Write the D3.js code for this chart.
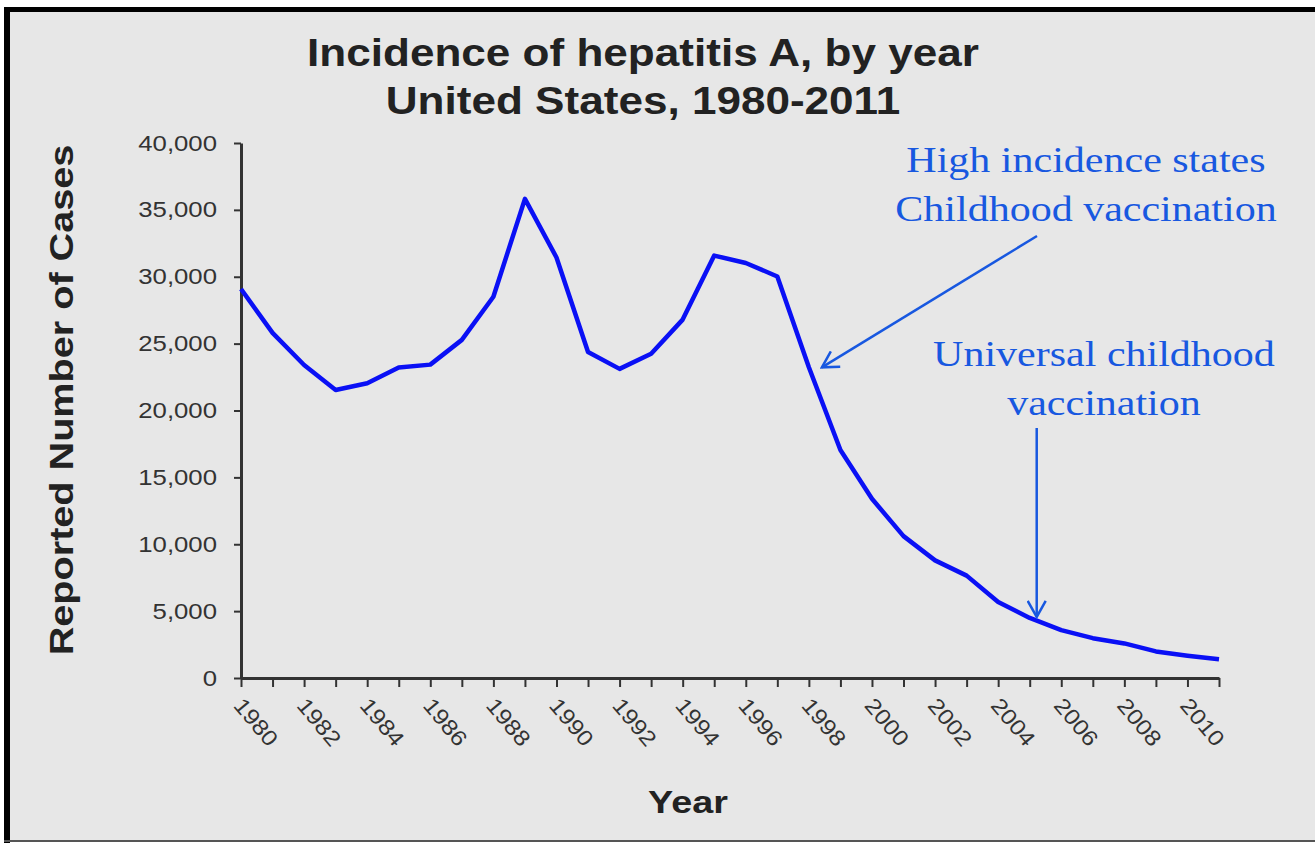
<!DOCTYPE html>
<html>
<head>
<meta charset="utf-8">
<script src="https://cdn.jsdelivr.net/npm/d3@7"></script>
<style>
  body { margin: 0; background: #fff; }
  svg { display: block; }
</style>
</head>
<body>
<svg id="chart"></svg>
<script>
// Reported hepatitis A cases, US
const years = d3.range(1980, 2012);
const cases = [29087, 25802, 23403, 21532, 22040, 23210, 23430, 25280, 28507, 35821,
  31441, 24378, 23112, 24238, 26796, 31582, 31032, 30021, 23229, 17047,
  13397, 10609, 8795, 7653, 5683, 4488, 3579, 2979, 2585, 1987, 1670, 1398];
const yTicks = [0, 5000, 10000, 15000, 20000, 25000, 30000, 35000, 40000];
const titleLines = ["Incidence of hepatitis A, by year", "United States, 1980-2011"];
const notes = [
  { lines: ["High incidence states", "Childhood vaccination"], year: 1998, value: 23229 },
  { lines: ["Universal childhood", "vaccination"], year: 2005, value: 4488 }
];

const width = 1315, height = 844;
const sans = "Liberation Sans, Arial, sans-serif";
const svg = d3.select("#chart").attr("width", width).attr("height", height);

// the original text is drawn a bit wide, so widen glyphs a little
function stretch(sel, factor) {
  sel.each(function () {
    const len = this.getComputedTextLength();
    d3.select(this).attr("textLength", len * factor).attr("lengthAdjust", "spacingAndGlyphs");
  });
}

// panel + frame
svg.append("rect").attr("x", 7).attr("y", 9).attr("width", width - 7).attr("height", 832)
  .attr("fill", "#e7e7e7");
svg.append("rect").attr("x", 4).attr("y", 7).attr("width", 6).attr("height", 836).attr("fill", "#000");
svg.append("rect").attr("x", 4).attr("y", 7).attr("width", width - 4).attr("height", 5).attr("fill", "#000");
svg.append("rect").attr("x", 4).attr("y", 840).attr("width", width - 4).attr("height", 2).attr("fill", "#555");

const margin = { top: 143, left: 241, right: 96, bottom: 166 };
const x = d3.scaleLinear().domain([1980, 2011]).range([margin.left, width - margin.right]);
const y = d3.scaleLinear().domain([0, 40000]).range([height - margin.bottom, margin.top]);

// title
svg.selectAll(".title").data(titleLines).join("text")
  .attr("class", "title")
  .attr("x", 643).attr("y", (d, i) => 66 + i * 48)
  .attr("text-anchor", "middle")
  .attr("font-family", sans)
  .attr("font-weight", "bold").attr("font-size", 39).attr("fill", "#222")
  .text(d => d)
  .call(stretch, 1.13);

// y axis
const yAxis = svg.append("g")
  .attr("transform", `translate(${margin.left},0)`)
  .call(d3.axisLeft(y).tickValues(yTicks).tickSize(7).tickSizeOuter(0).tickFormat(d3.format(",")));
yAxis.select(".domain").attr("stroke", "#333").attr("stroke-width", 3);
yAxis.selectAll(".tick line").attr("stroke", "#333").attr("stroke-width", 2);
yAxis.selectAll(".tick text")
  .attr("x", -24)
  .attr("font-family", sans)
  .attr("font-size", 22).attr("fill", "#333")
  .call(stretch, 1.17);

// x axis
const xAxis = svg.append("g")
  .attr("transform", `translate(0,${y(0)})`)
  .call(d3.axisBottom(x).tickValues(years).tickSize(9).tickSizeOuter(0)
    .tickFormat(d => d % 2 === 0 && d < 2011 ? d : ""));
xAxis.select(".domain").attr("stroke", "#333").attr("stroke-width", 3);
xAxis.selectAll(".tick line").attr("stroke", "#333").attr("stroke-width", 2);
xAxis.selectAll(".tick text")
  .attr("font-family", sans)
  .attr("font-size", 22).attr("fill", "#333")
  .attr("text-anchor", "start")
  .attr("transform", "translate(-3,23) rotate(50)")
  .attr("y", 0).attr("dy", "0.35em")
  .call(stretch, 1.12);

// axis titles
svg.append("text")
  .attr("transform", `translate(73,400) rotate(-90)`)
  .attr("text-anchor", "middle")
  .attr("font-family", sans)
  .attr("font-weight", "bold").attr("font-size", 33).attr("fill", "#222")
  .text("Reported Number of Cases")
  .call(stretch, 1.2);
svg.append("text")
  .attr("x", 688).attr("y", 813)
  .attr("text-anchor", "middle")
  .attr("font-family", sans)
  .attr("font-weight", "bold").attr("font-size", 32).attr("fill", "#222")
  .text("Year")
  .call(stretch, 1.18);

// data line
svg.append("path")
  .datum(years.map((yr, i) => [yr, cases[i]]))
  .attr("fill", "none")
  .attr("stroke", "#0a10f5")
  .attr("stroke-width", 4.5)
  .attr("stroke-linejoin", "round")
  .attr("d", d3.line().x(d => x(d[0])).y(d => y(d[1])));

// annotations
const blue = "#1858e0";
const defs = svg.append("defs");
defs.append("marker")
  .attr("id", "arrow").attr("viewBox", "0 0 20 20")
  .attr("refX", 18).attr("refY", 10)
  .attr("markerWidth", 20).attr("markerHeight", 20)
  .attr("markerUnits", "userSpaceOnUse")
  .attr("orient", "auto")
  .append("path").attr("d", "M2,1 L18,10 L2,19")
  .attr("fill", "none").attr("stroke", blue).attr("stroke-width", 2.5);

const noteText = (lines, cx, y0) => svg.append("g").selectAll("text").data(lines).join("text")
  .attr("font-family", "Liberation Serif, Times New Roman, serif")
  .attr("font-size", 35).attr("fill", blue).attr("text-anchor", "middle")
  .attr("x", cx).attr("y", (d, i) => y0 + i * 49)
  .text(d => d)
  .call(stretch, 1.2);

noteText(notes[0].lines, 1086, 172);
svg.append("line")
  .attr("x1", 1037).attr("y1", 236)
  .attr("x2", x(notes[0].year) + 13).attr("y2", y(notes[0].value))
  .attr("stroke", blue).attr("stroke-width", 2.5)
  .attr("marker-end", "url(#arrow)");

noteText(notes[1].lines, 1104, 366);
svg.append("line")
  .attr("x1", x(notes[1].year) + 7).attr("y1", 428)
  .attr("x2", x(notes[1].year) + 7).attr("y2", y(notes[1].value) - 1)
  .attr("stroke", blue).attr("stroke-width", 2.5)
  .attr("marker-end", "url(#arrow)");
</script>
</body>
</html>
